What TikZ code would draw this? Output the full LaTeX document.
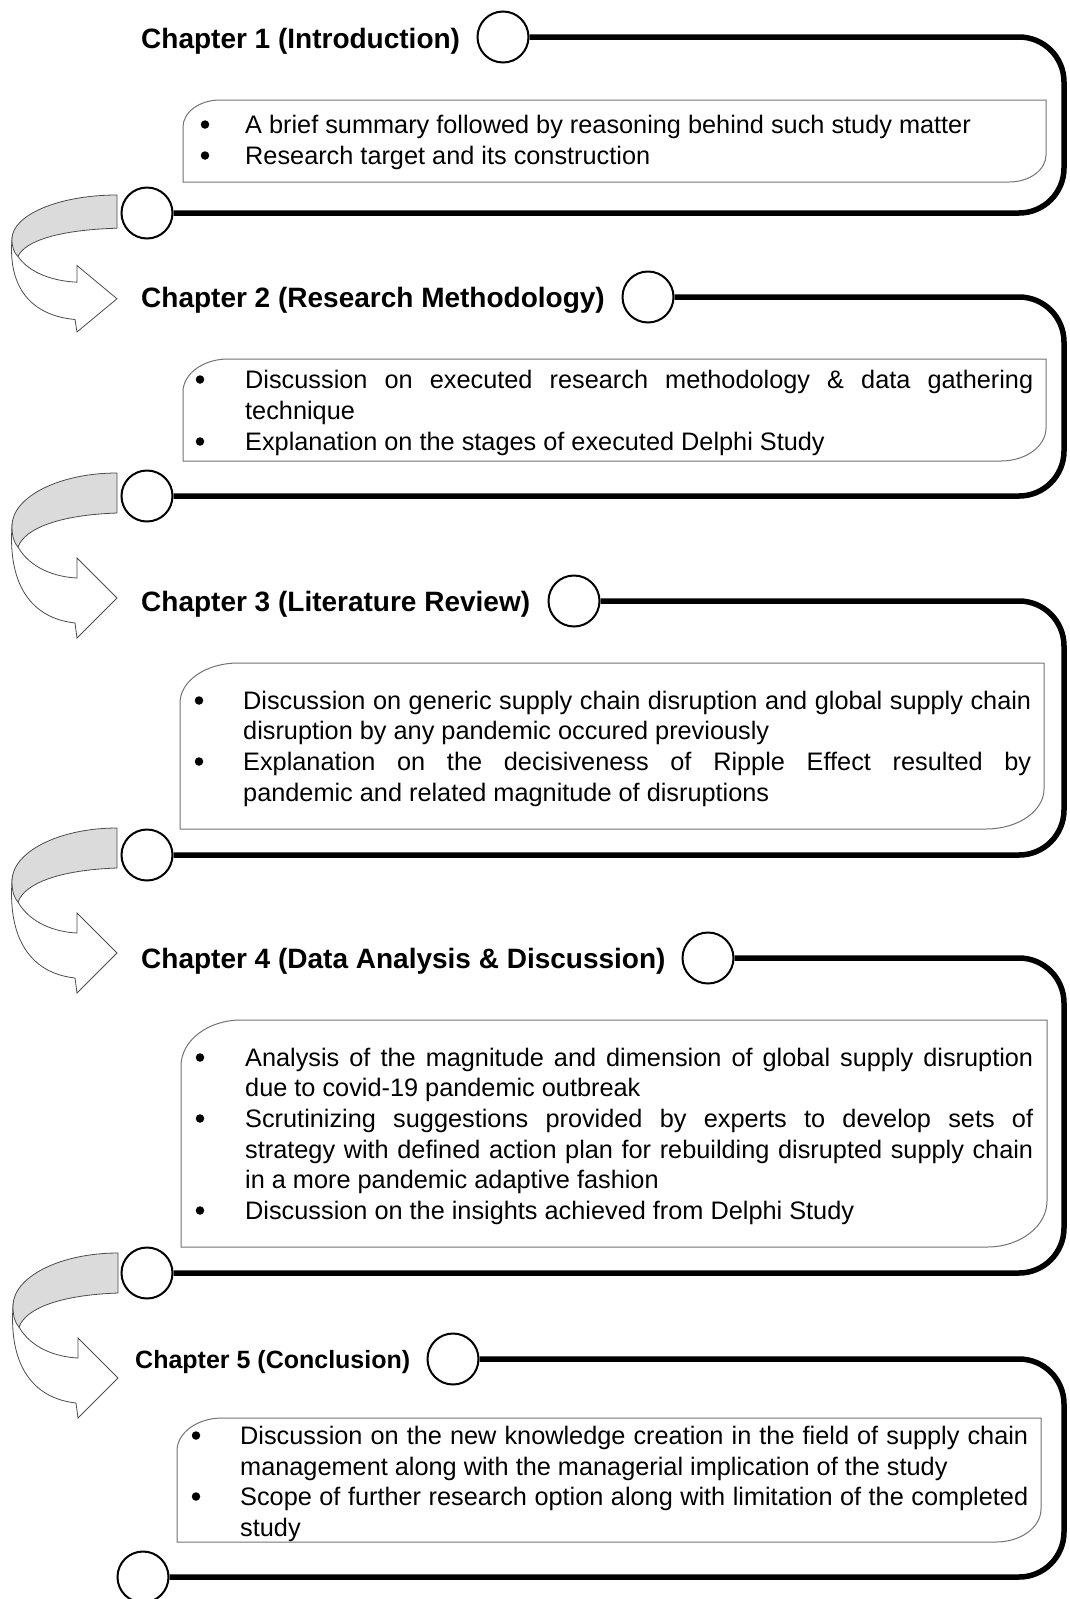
\documentclass[tikz,border=0pt]{standalone}
\usepackage{fontspec}
\setmainfont{Liberation Sans}
\tikzset{
  ctitle/.style={anchor=base west, inner sep=0pt, font=\fontsize{28}{32}\selectfont\bfseries},
  ctitlesm/.style={anchor=base west, inner sep=0pt, font=\fontsize{25}{30}\selectfont\bfseries},
  txt/.style={anchor=base west, inner sep=0pt, font=\fontsize{25.3}{30}\selectfont},
  bul/.style={circle, fill=black, inner sep=0pt, minimum size=8.5pt, yshift=8.5pt},
  ring/.style={circle, draw, fill=white, line width=2pt, minimum size=51pt, inner sep=0pt},
  chainline/.style={line width=5.5pt, rounded corners=45pt},
  sumbox/.style={draw=black!55, line width=1pt, fill=white},
  backpart/.style={fill=gray!28, draw=black!70, line width=0.8pt},
  frontpart/.style={fill=white, draw=black!70, line width=0.8pt},
}
\newcommand\jline[1]{\makebox[788pt][s]{#1}}
\newcommand\sumrect[6]{%
  \draw[sumbox] (#1,#4) -- (#1,{#2+#6}) .. controls (#1,{#2+0.448*#6}) and ({#1+0.448*#5},#2) .. ({#1+#5},#2)
    -- (#3,#2) -- (#3,{#4-#6}) .. controls (#3,{#4-0.448*#6}) and ({#3-0.448*#5},#4) .. ({#3-#5},#4) -- cycle;}
\newcommand\curlarrow[3]{%
  \begin{scope}[shift={(#3,#1)}]
  \begin{scope}[yscale=#2]
    \draw[frontpart] (12,53) .. controls (8,110) and (30,145) .. (75,150) -- (77,165) -- (117,125)
      -- (77,85) -- (77,105) .. controls (55,104) and (30,95) .. (18,74) -- cycle;
    \draw[backpart] (117,0) .. controls (59,0) and (12,24) .. (12,53) .. controls (12,63) and (14,70) .. (18,74)
      .. controls (25,55) and (60,42) .. (117,40) -- cycle;
  \end{scope}
  \end{scope}}
\begin{document}
\begin{tikzpicture}[x=1pt, y=-1pt]
\useasboundingbox[fill=white] (0,0) rectangle (1069,1599);

% ---------- boxes ----------
\sumrect{183}{100}{1046}{182}{37}{27}
\sumrect{183}{359}{1046}{461}{45}{33}
\sumrect{180}{663}{1044}{829}{58}{40}
\sumrect{181}{1020}{1047}{1247}{60}{46}
\sumrect{177}{1418}{1041}{1542}{45}{33}

% ---------- rings ----------
\node[ring] (c1t) at (503,37) {};
\node[ring] (c1b) at (147,213) {};
\node[ring] (c2t) at (648,297) {};
\node[ring] (c2b) at (147,496) {};
\node[ring] (c3t) at (574,601) {};
\node[ring] (c3b) at (147,855) {};
\node[ring] (c4t) at (708,958) {};
\node[ring] (c4b) at (147,1273) {};
\node[ring] (c5t) at (453,1359) {};
\node[ring] (c5b) at (143,1577) {};

% ---------- chain connectors ----------
\draw[chainline] (c1t) -- (1064,37) -- (1064,213) -- (c1b);
\draw[chainline] (c2t) -- (1064,297) -- (1064,496) -- (c2b);
\draw[chainline] (c3t) -- (1064,601) -- (1064,855) -- (c3b);
\draw[chainline] (c4t) -- (1064,958) -- (1064,1273) -- (c4b);
\draw[chainline] (c5t) -- (1064,1359) -- (1064,1577) -- (c5b);

% ---------- curved arrows ----------
\curlarrow{195}{0.83}{0}
\curlarrow{473}{1}{0}
\curlarrow{828}{1}{0}
\curlarrow{1253}{1}{1}

% ---------- titles ----------
\node[ctitle] (t1) at (141,48) {Chapter 1 (Introduction)};
\node[ctitle] (t2) at (141,307) {Chapter 2 (Research Methodology)};
\node[ctitle] (t3) at (141,611) {Chapter 3 (Literature Review)};
\node[ctitle] (t4) at (141,968) {Chapter 4 (Data Analysis \& Discussion)};
\node[ctitlesm] (t5) at (135,1368) {Chapter 5 (Conclusion)};

% ---------- chapter 1 text ----------
\node[bul] (b1a) at (205,133) {};
\node[txt] (l1a) at (245,133) {A brief summary followed by reasoning behind such study matter};
\node[bul] (b1b) at (205,164) {};
\node[txt] (l1b) at (245,164) {Research target and its construction};

% ---------- chapter 2 text ----------
\node[bul] (b2a) at (200,388) {};
\node[txt] (l2a) at (245,388) {\jline{Discussion on executed research methodology \& data gathering}};
\node[txt] (l2b) at (245,419) {technique};
\node[bul] (b2b) at (200,450) {};
\node[txt] (l2c) at (245,450) {Explanation on the stages of executed Delphi Study};

% ---------- chapter 3 text ----------
\node[bul] (b3a) at (199,709) {};
\node[txt] (l3a) at (243,709) {\jline{Discussion on generic supply chain disruption and global supply chain}};
\node[txt] (l3b) at (243,739) {disruption by any pandemic occured previously};
\node[bul] (b3b) at (199,770) {};
\node[txt] (l3c) at (243,770) {\jline{Explanation on the decisiveness of Ripple Effect resulted by}};
\node[txt] (l3d) at (243,801) {pandemic and related magnitude of disruptions};

% ---------- chapter 4 text ----------
\node[bul] (b4a) at (200,1066) {};
\node[txt] (l4a) at (245,1066) {\jline{Analysis of the magnitude and dimension of global supply disruption}};
\node[txt] (l4b) at (245,1096) {due to covid-19 pandemic outbreak};
\node[bul] (b4b) at (200,1127) {};
\node[txt] (l4c) at (245,1127) {\jline{Scrutinizing suggestions provided by experts to develop sets of}};
\node[txt] (l4d) at (245,1158) {\jline{strategy with defined action plan for rebuilding disrupted supply chain}};
\node[txt] (l4e) at (245,1188) {in a more pandemic adaptive fashion};
\node[bul] (b4c) at (200,1219) {};
\node[txt] (l4f) at (245,1219) {Discussion on the insights achieved from Delphi Study};

% ---------- chapter 5 text ----------
\node[bul] (b5a) at (196,1444) {};
\node[txt] (l5a) at (240,1444) {\jline{Discussion on the new knowledge creation in the field of supply chain}};
\node[txt] (l5b) at (240,1475) {management along with the managerial implication of the study};
\node[bul] (b5b) at (196,1505) {};
\node[txt] (l5c) at (240,1505) {\jline{Scope of further research option along with limitation of the completed}};
\node[txt] (l5d) at (240,1536) {study};
\end{tikzpicture}
\end{document}
